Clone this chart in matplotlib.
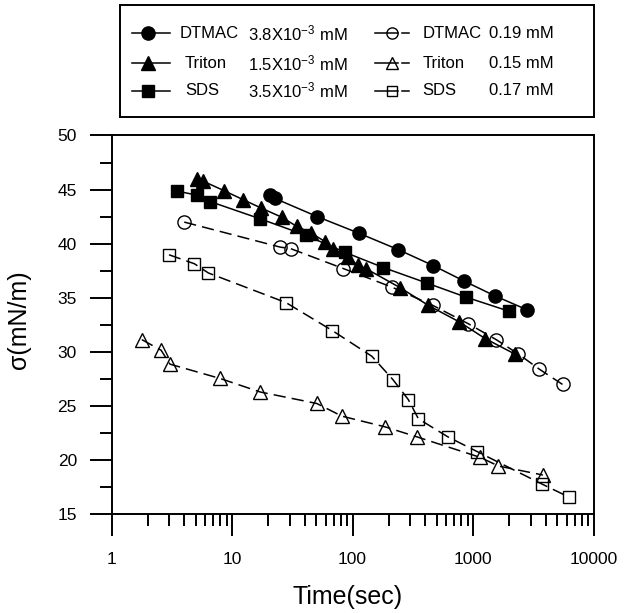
import numpy as np
import matplotlib
matplotlib.use("Agg")
import matplotlib.pyplot as plt
from matplotlib.ticker import LogLocator, MultipleLocator, FixedLocator, NullFormatter

plt.rcParams['font.family'] = ['Liberation Sans', 'DejaVu Sans']
plt.rcParams['mathtext.fontset'] = 'custom'
plt.rcParams['mathtext.rm'] = 'Liberation Sans'
plt.rcParams['mathtext.it'] = 'Liberation Sans'

# data (time in s, surface tension in mN/m)
dtmac_hi_t = [20.6, 22.7, 51, 114, 240, 469, 843, 1507, 2800]
dtmac_hi_s = [44.46, 44.18, 42.5, 40.95, 39.45, 37.97, 36.55, 35.2, 33.9]

triton_hi_t = [5.14, 5.77, 8.57, 12.4, 17.4, 25.8, 34.4, 45, 59, 69.3, 92, 110, 129,
               248, 426, 771, 1260, 2230]
triton_hi_s = [46.0, 45.77, 44.9, 44.06, 43.3, 42.45, 41.6, 41.0, 40.2, 39.5, 38.8, 38.0,
               37.7, 35.94, 34.3, 32.77, 31.24, 29.8]

sds_hi_t = [3.51, 5.08, 6.55, 17.1, 41.1, 86.7, 180, 413, 871, 2006]
sds_hi_s = [44.85, 44.5, 43.9, 42.3, 40.77, 39.2, 37.8, 36.37, 35.07, 33.75]

dtmac_lo_t = [4.0, 25, 30.7, 84, 211, 464, 916, 1556, 2384, 3560, 5530]
dtmac_lo_s = [42.0, 39.69, 39.54, 37.7, 36.0, 34.3, 32.6, 31.14, 29.8, 28.4, 27.0]

triton_lo_t = [1.78, 2.57, 3.05, 7.94, 17.1, 50.4, 81.4, 186, 341, 1147, 1625, 3800]
triton_lo_s = [31.14, 30.16, 28.87, 27.55, 26.3, 25.24, 24.07, 23.08, 22.16, 20.26,
               19.46, 18.63]

sds_lo_t = [2.99, 4.86, 6.34, 28, 68, 144.5, 216, 290, 352, 617, 1088, 3727, 6310]
sds_lo_s = [38.98, 38.15, 37.3, 34.56, 31.97, 29.6, 27.45, 25.6, 23.82, 22.16, 20.78,
            17.8, 16.57]

names = ['DTMAC', 'Triton', 'SDS']
conc_hi = [r'3.8X10$^{-3}$ mM', r'1.5X10$^{-3}$ mM', r'3.5X10$^{-3}$ mM']
conc_lo = ['0.19 mM', '0.15 mM', '0.17 mM']

W, H = 628, 613
fig = plt.figure(figsize=(W / 100, H / 100), dpi=100)
ax = fig.add_axes([111.7 / W, (H - 514.3) / H, 481.8 / W, 378.8 / H])

mk = ['o', '^', 's']
ms = [9.5, 9.5, 8.5]
hi = [(dtmac_hi_t, dtmac_hi_s), (triton_hi_t, triton_hi_s), (sds_hi_t, sds_hi_s)]
lo = [(dtmac_lo_t, dtmac_lo_s), (triton_lo_t, triton_lo_s), (sds_lo_t, sds_lo_s)]

for (t, s), m, z in zip(lo, mk, ms):
    ax.plot(t, s, color='black', lw=1.1, dashes=(8, 4), marker=m, ms=z,
            mfc='none', mec='black', mew=1.0)
for (t, s), m, z in zip(hi, mk, ms):
    ax.plot(t, s, color='black', lw=1.1, marker=m, ms=z, mfc='black', mec='black')

ax.set_xscale('log')
ax.set_xlim(1, 10000)
ax.set_ylim(15, 50)
ax.xaxis.set_major_locator(FixedLocator([1, 10, 100, 1000, 10000]))
ax.xaxis.set_major_formatter(matplotlib.ticker.FixedFormatter(['1', '10', '100', '1000', '10000']))
ax.xaxis.set_minor_locator(LogLocator(base=10, subs=np.arange(2, 10), numticks=20))
ax.xaxis.set_minor_formatter(NullFormatter())
ax.yaxis.set_major_locator(MultipleLocator(5))
ax.yaxis.set_minor_locator(MultipleLocator(2.5))

ax.tick_params(which='both', direction='out', width=1.4, top=False, right=False)
ax.tick_params(which='major', length=16, labelsize=12.5)
ax.tick_params(which='minor', length=8.3)
ax.tick_params(axis='x', which='major', pad=11)
ax.tick_params(axis='y', which='major', pad=9)
for sp in ax.spines.values():
    sp.set_linewidth(1.4)

ax.set_xlabel('Time(sec)', fontsize=18)
ax.set_ylabel('σ(mN/m)', fontsize=18)
ax.xaxis.set_label_coords(0.49, -0.187)
ax.yaxis.set_label_coords(-0.1675, 0.513)

# legend box drawn in pixel units
bl, br, bt, bb = 120, 593.7, 5, 116.7
lax = fig.add_axes([bl / W, (H - bb) / H, (br - bl) / W, (bb - bt) / H])
lax.set_xlim(bl, br)
lax.set_ylim(bb, bt)
lax.set_xticks([])
lax.set_yticks([])
for sp in lax.spines.values():
    sp.set_linewidth(1.4)

rows = [33.3, 63.3, 90.7]
name_x1 = [180, 185, 185]
for i in range(3):
    y = rows[i]
    lax.plot([132, 170], [y, y], color='black', lw=1.1)
    lax.plot([148.3], [y], marker=mk[i], ms=ms[i], color='black')
    lax.text(name_x1[i], y, names[i], fontsize=12, va='center')
    lax.text(247.5, y, conc_hi[i], fontsize=12, va='center')

    lax.plot([375, 398], [y, y], color='black', lw=1.1)
    lax.plot([402, 409], [y, y], color='black', lw=1.1)
    lax.plot([391.7], [y], marker=mk[i], ms=ms[i] * 0.85, mfc='none', mec='black', mew=1.0)
    lax.text(422.5, y, names[i], fontsize=12, va='center')
    lax.text(489, y, conc_lo[i], fontsize=12, va='center')

fig.savefig('out.png', dpi=100)
